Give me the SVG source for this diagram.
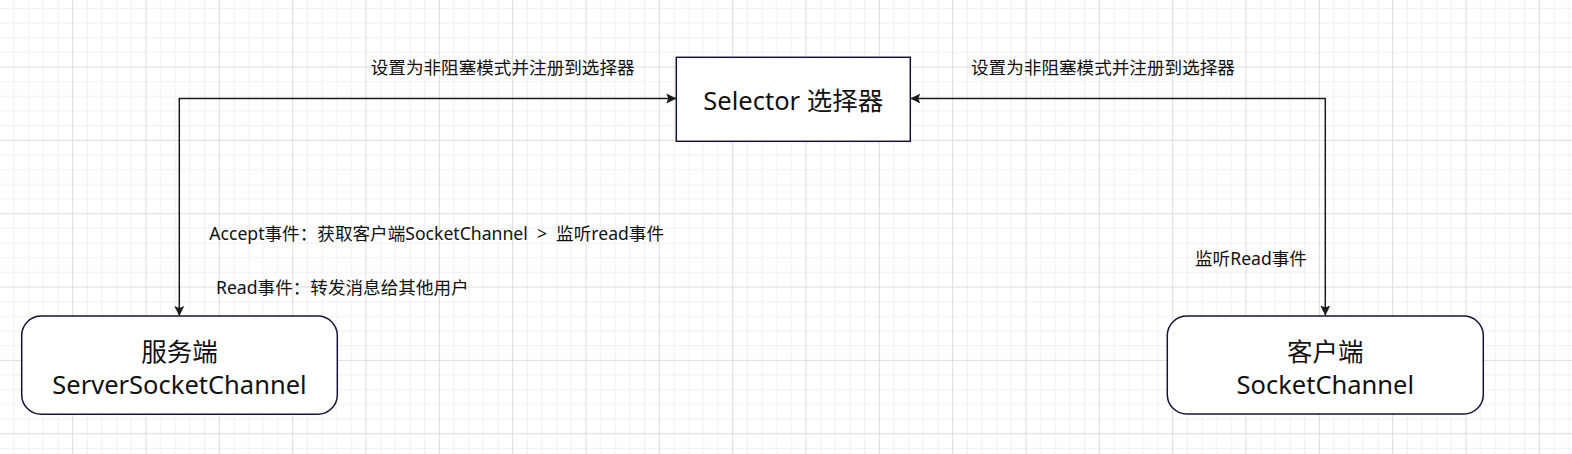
<svg xmlns="http://www.w3.org/2000/svg" width="1572" height="454" viewBox="0 0 1572 454">
  <style>
    .node { fill: #ffffff; stroke: #141438; stroke-width: 1.5; }
    .edge { fill: none; stroke: #1a1a1a; stroke-width: 1.5; }
    .big { font-family: "Noto Sans", "Noto Sans CJK SC", sans-serif; font-size: 25.5px; fill: #111111; text-anchor: middle; }
    .lbl { font-family: "Noto Sans", "Noto Sans CJK SC", sans-serif; font-size: 17.6px; fill: #111111; white-space: pre; }
  </style>
  <defs>
    <pattern id="grid" patternUnits="userSpaceOnUse" x="-1.17" y="-6.8" width="73.333" height="73.333">
      <g fill="#efefef">
        <rect x="14.667" y="0" width="1" height="73.333"/>
        <rect x="29.333" y="0" width="1" height="73.333"/>
        <rect x="44" y="0" width="1" height="73.333"/>
        <rect x="58.667" y="0" width="1" height="73.333"/>
        <rect x="0" y="14.667" width="73.333" height="1"/>
        <rect x="0" y="29.333" width="73.333" height="1"/>
        <rect x="0" y="44" width="73.333" height="1"/>
        <rect x="0" y="58.667" width="73.333" height="1"/>
      </g>
      <g fill="#dcdcdc">
        <rect x="0" y="0" width="1" height="73.333"/>
        <rect x="0" y="0" width="73.333" height="1"/>
      </g>
    </pattern>
    <marker id="arrow" viewBox="0 0 10 10" refX="10" refY="5" markerUnits="userSpaceOnUse" markerWidth="10" markerHeight="10.5" orient="auto-start-reverse">
      <path d="M0,0 L10,5 L0,10 L2,5 z" fill="#1a1a1a"/>
    </marker>
  </defs>

  <rect x="0" y="0" width="1572" height="454" fill="#ffffff"/>
  <rect x="0" y="0" width="1572" height="454" fill="url(#grid)"/>

  <g id="connectors">
    <path class="edge" d="M179.3,316 V98.5 H676.3" marker-start="url(#arrow)" marker-end="url(#arrow)"/>
    <path class="edge" d="M1325.3,315.5 V98.5 H910.3" marker-start="url(#arrow)" marker-end="url(#arrow)"/>
  </g>

  <g id="selector">
    <rect class="node" x="676.3" y="57.3" width="234" height="84"/>
    <text class="big" x="793.3" y="110">Selector 选择器</text>
  </g>

  <g id="server">
    <rect class="node" x="21.7" y="316" width="315.6" height="98.3" rx="19.6" ry="19.6"/>
    <text class="big" x="179.5" y="360.5">服务端</text>
    <text class="big" x="179.5" y="394.3">ServerSocketChannel</text>
  </g>

  <g id="client">
    <rect class="node" x="1167.3" y="316" width="316" height="98" rx="19.6" ry="19.6"/>
    <text class="big" x="1325.3" y="360.5">客户端</text>
    <text class="big" x="1325.3" y="394.3">SocketChannel</text>
  </g>

  <g id="labels">
    <text class="lbl" x="370.7" y="74">设置为非阻塞模式并注册到选择器</text>
    <text class="lbl" x="971" y="74">设置为非阻塞模式并注册到选择器</text>
    <text class="lbl" x="209.3" y="239.5" xml:space="preserve">Accept事件：获取客户端SocketChannel  &gt;  监听read事件</text>
    <text class="lbl" x="216" y="294.3">Read事件：转发消息给其他用户</text>
    <text class="lbl" x="1195" y="265">监听Read事件</text>
  </g>
</svg>
